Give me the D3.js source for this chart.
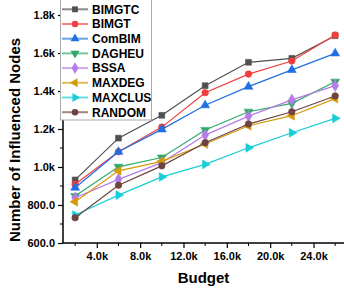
<!DOCTYPE html>
<html><head><meta charset="utf-8">
<script src="https://cdn.jsdelivr.net/npm/d3@7"></script>
<style>body{margin:0;background:#fff}svg{display:block;font-family:"Liberation Sans",Arial,sans-serif;font-weight:bold}</style>
</head><body><svg id="c" width="344" height="292"></svg>
<script>
const budgets = [2000, 6000, 10000, 14000, 18000, 22000, 26000];
const seriesNames = ["BIMGTC","BIMGT","ComBIM","DAGHEU","BSSA","MAXDEG","MAXCLUS","RANDOM"];
const BIMGTC = [932, 1152, 1272, 1428, 1551, 1572, 1691];
const BIMGT = [909, 1080, 1210, 1391, 1489, 1558, 1695];
const ComBIM = [891, 1080, 1198, 1325, 1423, 1511, 1598];
const DAGHEU = [847, 1001, 1050, 1195, 1291, 1335, 1449];
const BSSA = [838, 935, 1023, 1168, 1268, 1353, 1428];
const MAXDEG = [817, 980, 1030, 1121, 1217, 1270, 1360];
const MAXCLUS = [747, 852, 948, 1014, 1101, 1180, 1256];
const RANDOM = [733, 904, 1006, 1128, 1226, 1291, 1374];
const yTicks = [600, 800, 1000, 1200, 1400, 1600, 1800];
const xTicks = [4000, 8000, 12000, 16000, 20000, 24000];

const values = [BIMGTC, BIMGT, ComBIM, DAGHEU, BSSA, MAXDEG, MAXCLUS, RANDOM];
const colors = ["#505050","#f03e3e","#1f6fe0","#2eaa66","#b47ce6","#d49a0a","#18cdd6","#6e4440"];
const shapes = [
  {t:d3.symbolSquare, r:0},{t:d3.symbolCircle, r:0},{t:d3.symbolTriangle, r:0},{t:d3.symbolTriangle, r:180},
  {t:d3.symbolDiamond, r:0},{t:d3.symbolTriangle, r:-90},{t:d3.symbolTriangle, r:90},{t:d3.symbolCircle, r:0}];

const svg = d3.select("#c");
const x = d3.scaleLinear().domain([880, 27000]).range([63, 346]);
const y = d3.scaleLinear().domain([600, 1800]).range([243, 15]);

const fmtY = v => v < 1000 ? v.toFixed(1) : (v/1000).toFixed(1) + "k";
const fmtX = v => (v/1000).toFixed(1) + "k";

const yMinor = d3.range(700, 1900, 200);
const xMinor = d3.range(2000, 28000, 4000);

const gy = svg.append("g").attr("transform","translate(63,0)");
gy.append("line").attr("x1",0).attr("x2",0).attr("y1",y(600)).attr("y2",0).attr("stroke","#000").attr("stroke-width",1.5);
gy.call(g=>{
  const ax = d3.axisLeft(y).tickValues(yTicks).tickFormat(fmtY).tickSize(5).tickPadding(3);
  const a = g.append("g").call(ax);
  a.select(".domain").remove();
  a.selectAll("text").attr("font-size",11).attr("font-weight","bold").attr("fill","#000").attr("font-family","Liberation Sans, Arial, sans-serif");
  a.selectAll("line").attr("stroke-width",1.2);
});
gy.selectAll(".ym").data(yMinor).join("line").attr("x1",-3).attr("x2",0).attr("y1",d=>y(d)).attr("y2",d=>y(d)).attr("stroke","#000");

const gx = svg.append("g").attr("transform","translate(0,243)");
gx.append("line").attr("x1",63).attr("x2",344).attr("y1",0).attr("y2",0).attr("stroke","#000").attr("stroke-width",1.5);
gx.call(g=>{
  const ax = d3.axisBottom(x).tickValues(xTicks).tickFormat(fmtX).tickSize(5).tickPadding(4);
  const a = g.append("g").call(ax);
  a.select(".domain").remove();
  a.selectAll("text").attr("font-size",11).attr("font-weight","bold").attr("fill","#000").attr("font-family","Liberation Sans, Arial, sans-serif");
  a.selectAll("line").attr("stroke-width",1.2);
});
gx.selectAll(".xm").data(xMinor).join("line").attr("x1",d=>x(d)).attr("x2",d=>x(d)).attr("y1",0).attr("y2",3).attr("stroke","#000");

svg.append("text").attr("x",203.5).attr("y",283).attr("text-anchor","middle").attr("font-size",15).text("Budget");
svg.append("text").attr("transform","translate(20,140) rotate(-90)").attr("text-anchor","middle").attr("font-size",15).text("Number of Influenced Nodes");

const line = d3.line().x((d,i)=>x(budgets[i])).y(d=>y(d));
values.forEach((vals,k)=>{
  const g = svg.append("g");
  g.append("path").attr("d",line(vals)).attr("fill","none").attr("stroke",colors[k]).attr("stroke-width",1.2);
  g.selectAll("path.m").data(vals).join("path").attr("class","m")
    .attr("d", d3.symbol().type(shapes[k].t).size(k===4?40:34))
    .attr("transform",(d,i)=>`translate(${x(budgets[i])},${y(d)}) rotate(${shapes[k].r})`)
    .attr("fill",colors[k]).attr("stroke",colors[k]).attr("stroke-width",0.6);
});

const lg = svg.append("g");
lg.append("rect").attr("x",60.5).attr("y",-1).attr("width",91).attr("height",121).attr("fill","#fff").attr("stroke","#aaa").attr("stroke-width",1);
seriesNames.forEach((n,k)=>{
  const yy = 9.3 + k*14.7;
  lg.append("line").attr("x1",62).attr("x2",88).attr("y1",yy).attr("y2",yy).attr("stroke",colors[k]).attr("stroke-width",2).attr("opacity",0.65);
  lg.append("path").attr("d",d3.symbol().type(shapes[k].t).size(k===4?40:34)).attr("transform",`translate(75,${yy}) rotate(${shapes[k].r})`).attr("fill",colors[k]);
  lg.append("text").attr("x",92).attr("y",yy+4.3).attr("font-size",12).text(n);
});
</script></body></html>
